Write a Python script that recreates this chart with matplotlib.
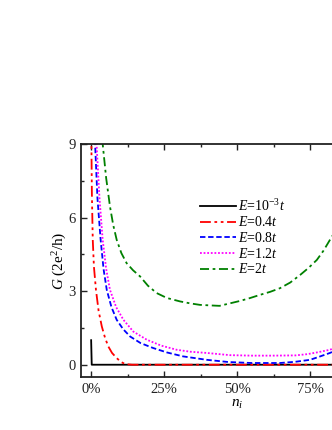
import matplotlib
matplotlib.use("Agg")
import matplotlib.pyplot as plt
from matplotlib.ticker import MultipleLocator, FuncFormatter

plt.rcParams['font.family'] = ['Liberation Serif', 'DejaVu Serif']
plt.rcParams['mathtext.fontset'] = 'custom'
plt.rcParams['mathtext.rm'] = 'Liberation Serif'
plt.rcParams['mathtext.it'] = 'Liberation Serif:italic'

# ---- data (n_i in %, G in units of 2e^2/h) ----
x_e1 = [0.05, 0.25, 100]
g_e1 = [1.0, 0.0, 0.0]

x_e04 = [0.1, 0.3, 0.6, 1.0, 1.7, 2.6, 3.7, 4.8, 5.9, 7.2, 8.8, 10.2, 11.6, 14, 25, 50, 75, 100]
g_e04 = [9.5, 7.0, 5.1, 4.0, 3.05, 2.2, 1.56, 1.1, 0.75, 0.48, 0.27, 0.12, 0.03, 0.0, 0.0, 0.0, 0.0, 0.0]

x_e08 = [1.0, 1.4, 2.2, 3.3, 4.3, 5.4, 7.0, 8.8, 11.0, 13.4, 17.0, 21.3, 26.0, 31.5, 39.6, 47, 55, 64.7, 70, 75, 78, 81.8, 86, 90, 100]
g_e08 = [10.5, 9.0, 6.8, 5.09, 3.9, 3.05, 2.35, 1.83, 1.45, 1.15, 0.88, 0.68, 0.5, 0.34, 0.2, 0.11, 0.07, 0.07, 0.12, 0.2, 0.32, 0.48, 0.7, 1.0, 2.0]

x_e12 = [1.5, 1.9, 2.9, 4.0, 5.2, 6.5, 8.6, 11.1, 14.5, 19.1, 24.0, 29.3, 34.0, 39.6, 47.6, 55, 62, 70, 74, 77.3, 81.8, 86, 90, 100]
g_e12 = [10.5, 9.0, 6.8, 5.09, 3.9, 3.05, 2.35, 1.83, 1.35, 1.02, 0.78, 0.61, 0.53, 0.48, 0.39, 0.37, 0.37, 0.38, 0.43, 0.5, 0.61, 0.8, 1.0, 1.8]

x_e2 = [3.5, 4.0, 5.2, 6.5, 7.6, 8.8, 10.4, 12.2, 14.4, 16.8, 19.5, 22.5, 26.0, 30.5, 34.0, 37.3, 40.5, 44, 47.5, 51, 54.5, 57.9, 61.3, 64.7, 68.2, 71.6, 74.5, 77.3, 79.6, 81.8, 86, 90, 100]
g_e2 = [10.0, 9.0, 7.6, 6.45, 5.7, 5.09, 4.55, 4.14, 3.85, 3.6, 3.22, 2.92, 2.72, 2.58, 2.5, 2.44, 2.42, 2.40, 2.5, 2.6, 2.72, 2.85, 2.97, 3.12, 3.35, 3.66, 3.95, 4.27, 4.65, 5.09, 5.9, 6.8, 8.8]

labels = [r'$E$=10$^{-3}t$', r'$E$=0.4$t$', r'$E$=0.8$t$', r'$E$=1.2$t$', r'$E$=2$t$']

fig = plt.figure(figsize=(3.32, 4.30), dpi=100)
ax = fig.add_axes([0.244, 0.1233, 0.940, 0.5419])

lw = 1.3
ax.plot(x_e1, g_e1, color='black', lw=lw, ls='-', label=labels[0])
ax.plot(x_e04, g_e04, color='#ff0000', lw=lw, ls=(0, (6, 2, 1.5, 2, 1.5, 2)), label=labels[1])
ax.plot(x_e08, g_e08, color='#0000ff', lw=lw, ls=(0, (3, 1.5)), label=labels[2])
ax.plot(x_e12, g_e12, color='#ff00ff', lw=lw, ls=(0, (1, 1)), label=labels[3])
ax.plot(x_e2, g_e2, color='#008000', lw=lw, ls=(0, (5, 2, 1.5, 2)), label=labels[4])

ax.set_xlim(-3.42, 103.42)
ax.set_ylim(-0.5, 9)
ax.set_xticks([0, 25, 50, 75])
ax.xaxis.set_minor_locator(MultipleLocator(12.5))
ax.yaxis.set_major_locator(MultipleLocator(3))
ax.yaxis.set_minor_locator(MultipleLocator(1.5))
ax.xaxis.set_major_formatter(FuncFormatter(lambda v, p: f"{int(round(v))}%"))
ax.tick_params(which='both', direction='in', top=True, right=True, labelsize=10.5, width=1.0, colors='#222222')
ax.tick_params(which='major', length=4, pad=4)
ax.tick_params(which='minor', length=2.5)
for s in ax.spines.values():
    s.set_linewidth(1.3)
    s.set_color('#222222')

ax.set_ylabel(r'$G$ (2e$^2$/h)', fontsize=11, labelpad=-1)
ax.set_xlabel(r'$n_i$', fontsize=11, labelpad=2)

ax.legend(loc='upper left', bbox_to_anchor=(0.58, 0.556), bbox_transform=fig.transFigure,
          frameon=False, fontsize=10, handlelength=2.6, handletextpad=0.2,
          labelspacing=0.12, borderpad=0)

fig.savefig('out.png', dpi=100)
